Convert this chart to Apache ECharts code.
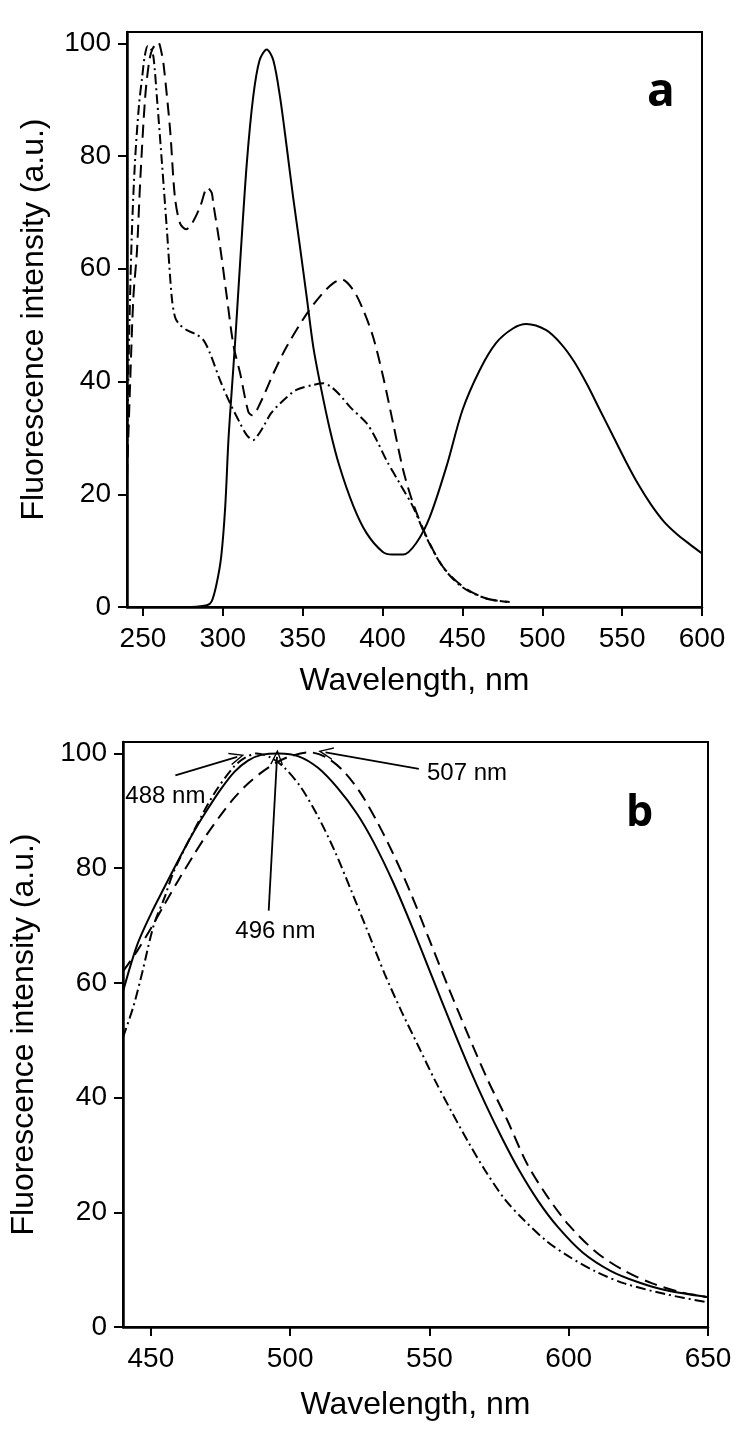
<!DOCTYPE html>
<html>
<head>
<meta charset="utf-8">
<script src="https://cdn.jsdelivr.net/npm/echarts@6/dist/echarts.min.js"></script>
<style>
html, body { margin: 0; padding: 0; background: #fff; }
#chart { width: 750px; height: 1440px; }
</style>
</head>
<body>
<div id="chart"></div>
<script>
// panel a
var aSolidNm = [280, 290, 293, 296, 299, 301.5, 303.5, 305.6, 307.7, 310.8, 315, 319, 323, 327.5, 331.6, 335.8, 340, 344, 348.3, 352.5, 356.6, 361, 367, 373, 381.6, 390, 400, 406, 413, 421, 429.6, 440, 450, 460.8, 471, 481.6, 490, 502.5, 512, 520, 528, 536, 544, 552, 560, 568, 576, 584, 592, 600];
var aSolidVal = [0, 0.3, 1, 4, 9, 17.8, 29.6, 38.5, 47, 61, 78.7, 90.5, 97, 98.9, 97, 90.5, 81.6, 72.7, 63.9, 55, 46.2, 39.5, 31.5, 25, 18, 13.1, 9.8, 9.3, 9.3, 11.3, 16, 24.9, 34.9, 42, 46.8, 49.4, 50.2, 49.1, 46.6, 43.5, 39.5, 35, 30.5, 26, 21.8, 18.2, 15.2, 13, 11.2, 9.5];

var aDashNm = [240, 242, 244, 246.2, 248.3, 251.4, 254, 256, 259.5, 261.5, 263, 267, 270, 273.3, 277, 281, 285.8, 290.4, 293, 294, 298.3, 302.5, 306.6, 310.8, 316, 318.5, 323.3, 331.6, 340, 352.5, 362, 369, 374.4, 381.7, 387.9, 394.1, 400.4, 406.6, 412.9, 419.1, 427.5, 437.9, 450.4, 465, 479.6];
var aDashVal = [23, 40, 55, 63, 75.7, 90.5, 97, 99, 100.2, 98.5, 96, 84.6, 72.7, 68, 67, 68.2, 71, 74.4, 73.5, 71.6, 63.9, 55, 46.5, 41.5, 34.6, 34, 36.1, 41.4, 46.2, 52, 55.5, 57.4, 58.1, 56.2, 52.7, 47.9, 40.8, 32.6, 24.3, 18.4, 12.5, 7.1, 3.6, 1.5, 0.9];

var aDotNm = [240, 241.5, 243, 245, 247.5, 249.5, 251, 253, 255, 256.6, 258.7, 261.9, 265, 268, 270, 272.3, 277.5, 283.7, 288, 292, 298.3, 304.6, 310.8, 315, 319, 322, 325.4, 330, 335.8, 346, 356.6, 363, 368, 373.3, 379.6, 390, 396.3, 402.5, 410.8, 419, 427.5, 438, 450, 465, 478];
var aDotVal = [27, 50, 66, 79, 89, 94, 97.5, 99.5, 99, 97.5, 90.5, 78.7, 66.8, 55, 51.5, 50.3, 49.1, 48.3, 47.3, 45, 40.2, 36.1, 32.6, 30.5, 29.6, 30.5, 32, 34.3, 36.1, 38.5, 39.4, 39.7, 39, 37.6, 35.5, 32.6, 29.6, 26, 21.9, 17.8, 12.3, 7, 3.5, 1.5, 0.9];

var aTicksX = [250, 300, 350, 400, 450, 500, 550, 600];

// panel b
var bSolidNm = [440, 445, 450, 455, 460, 465, 470, 475, 480, 485, 490, 496, 503, 510, 517, 524, 530, 537, 544, 551, 558, 564, 570, 576, 582, 589, 596, 605, 615, 625, 635, 650];
var bSolidVal = [58.5, 66.5, 72, 76.8, 81.5, 86, 90, 93.7, 96.8, 98.8, 99.8, 100, 99.5, 97.5, 94, 89.5, 84.5, 77.5, 69.5, 61, 52.5, 45.5, 39, 33, 27.5, 22, 17.5, 13, 9.8, 7.8, 6.4, 5.2];

var bDashNm = [440, 445, 450, 455, 460, 465, 470, 475, 480, 485, 490, 495, 500, 507, 513, 519, 525, 531, 537, 543, 550, 557, 564, 571, 578, 585, 592, 600, 610, 620, 630, 640, 650];
var bDashVal = [62, 65.5, 69.5, 73.8, 78, 82, 85.8, 89.2, 92.3, 94.8, 96.8, 98.4, 99.5, 100.2, 99.3, 97, 93.3, 88.3, 82.5, 76, 67.5, 59, 50.8, 43, 36, 28.5, 23, 17.8, 13, 9.8, 7.6, 6.1, 5.2];

var bDotNm = [440, 443.8, 447, 451, 455, 458.2, 465.4, 472.6, 479.8, 484, 488, 493, 498, 504, 510, 516, 522, 528, 534, 540, 546, 552, 558, 564, 570, 577, 584, 592, 600, 610, 620, 635, 650];
var bDotVal = [50.5, 56, 62, 70, 75, 79.4, 86.5, 92.9, 97.7, 99.3, 100, 99.3, 97.5, 94, 89, 83, 76, 68.8, 61.5, 55, 49, 43, 37.5, 32.2, 27.3, 22.3, 18.6, 15, 12.3, 9.6, 7.6, 5.7, 4.3];

var bTicksX = [450, 500, 550, 600, 650];
var ticksY = [0, 20, 40, 60, 80, 100];

// peak annotations in panel b: text, text position, arrow tail, arrow head
var peakText = ['488 nm', '496 nm', '507 nm'];
var peakTextAt = [[455.2, 92.5], [494.7, 68.9], [563.5, 96.5]];
var arrowFrom = [[458.8, 96.2], [492.3, 72.6], [546.2, 97.3]];
var arrowTo = [[481, 99.4], [495.3, 99.4], [512.7, 100.2]];

function zip(xs, ys) {
  return xs.map(function (x, i) { return [x, ys[i]]; });
}

var font = '"Liberation Sans", Arial, sans-serif';
var dashed = [13, 7];
var dashDot = [10, 4, 2, 4];
var chevron = 'path://M0,16 L8,0 L16,16 L14.2,16 L8,3.6 L1.8,16 Z';

function curve(idx, data, type) {
  return {
    type: 'line',
    xAxisIndex: idx,
    yAxisIndex: idx,
    data: data,
    smooth: 0.3,
    showSymbol: false,
    symbol: 'none',
    animation: false,
    lineStyle: { color: '#000', width: 2, type: type, cap: 'butt' }
  };
}

function xAxisOf(idx, min, max, ticks, nameGap) {
  return {
    type: 'value', gridIndex: idx, min: min, max: max,
    name: 'Wavelength, nm', nameLocation: 'middle', nameGap: nameGap,
    nameTextStyle: { fontFamily: font, fontSize: 32, color: '#000' },
    axisLine: { onZero: false, lineStyle: { color: '#000', width: 2.5 } },
    axisTick: { length: 9, customValues: ticks, lineStyle: { color: '#000', width: 2 } },
    axisLabel: { customValues: ticks, margin: 18, fontFamily: font, fontSize: 28, color: '#000' },
    splitLine: { show: false }
  };
}

function yAxisOf(idx, nameGap) {
  return {
    type: 'value', gridIndex: idx, min: 0, max: 102,
    name: 'Fluorescence intensity (a.u.)', nameLocation: 'middle', nameGap: nameGap,
    nameTextStyle: { fontFamily: font, fontSize: 32, color: '#000' },
    axisLine: { show: true, lineStyle: { color: '#000', width: 2.5 } },
    axisTick: { show: true, length: 9, customValues: ticksY, lineStyle: { color: '#000', width: 2 } },
    axisLabel: { customValues: ticksY, margin: 16, fontFamily: font, fontSize: 28, color: '#000' },
    splitLine: { show: false }
  };
}

var chart = echarts.init(document.getElementById('chart'));

var bSolid = curve(1, zip(bSolidNm, bSolidVal), 'solid');
bSolid.markLine = {
  silent: true,
  animation: false,
  symbol: ['none', chevron],
  symbolSize: [13, 15],
  lineStyle: { color: '#000', width: 1.8, type: 'solid' },
  label: { show: false },
  data: arrowFrom.map(function (p, i) {
    return [{ coord: p }, { coord: arrowTo[i] }];
  })
};
bSolid.markPoint = {
  silent: true,
  animation: false,
  symbol: 'circle',
  symbolSize: 1,
  itemStyle: { color: 'rgba(0,0,0,0)' },
  label: {
    show: true, position: 'inside', formatter: '{b}',
    fontFamily: '"Liberation Sans Narrow", "Arial Narrow", ' + font,
    fontSize: 24, color: '#000'
  },
  data: peakText.map(function (t, i) {
    return { name: t, coord: peakTextAt[i] };
  })
};

chart.setOption({
  backgroundColor: '#fff',
  grid: [
    { left: 127, top: 32, width: 575, height: 575, show: true, borderColor: '#000', borderWidth: 2, backgroundColor: 'transparent' },
    { left: 123, top: 742, width: 585, height: 585, show: true, borderColor: '#000', borderWidth: 2, backgroundColor: 'transparent' }
  ],
  xAxis: [
    xAxisOf(0, 240, 600, aTicksX, 58),
    xAxisOf(1, 440, 650, bTicksX, 62)
  ],
  yAxis: [
    yAxisOf(0, 77),
    yAxisOf(1, 83)
  ],
  graphic: [
    { type: 'text', left: 647, top: 70, style: { text: 'a', font: 'bold 46px "Open Sans", sans-serif', fill: '#000' } },
    { type: 'text', left: 626, top: 792, style: { text: 'b', font: 'bold 43px "Open Sans", sans-serif', fill: '#000' } }
  ],
  series: [
    curve(0, zip(aSolidNm, aSolidVal), 'solid'),
    curve(0, zip(aDashNm, aDashVal), dashed),
    curve(0, zip(aDotNm, aDotVal), dashDot),
    bSolid,
    curve(1, zip(bDashNm, bDashVal), dashed),
    curve(1, zip(bDotNm, bDotVal), dashDot)
  ]
});
</script>
</body>
</html>
